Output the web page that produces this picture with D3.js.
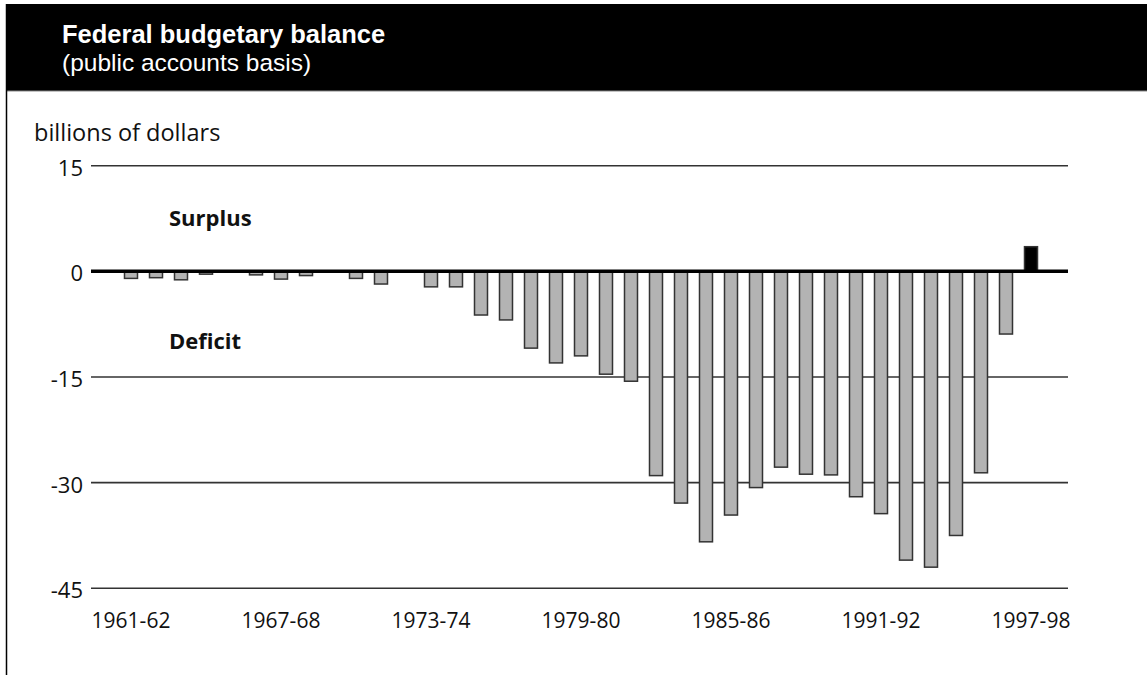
<!DOCTYPE html>
<html>
<head>
<meta charset="utf-8">
<script src="https://cdn.jsdelivr.net/npm/d3@7/dist/d3.min.js"></script>
<style>
  html, body { margin: 0; padding: 0; background: #fff; }
  svg { display: block; font-family: "Open Sans", "Liberation Sans", Arial, sans-serif; }
  .head { font-family: "Liberation Sans", Arial, sans-serif; }
</style>
</head>
<body>
<svg id="chart" width="1147" height="675"></svg>
<script>
const years = ["1961-62","1962-63","1963-64","1964-65","1965-66","1966-67","1967-68","1968-69",
  "1969-70","1970-71","1971-72","1972-73","1973-74","1974-75","1975-76","1976-77","1977-78",
  "1978-79","1979-80","1980-81","1981-82","1982-83","1983-84","1984-85","1985-86","1986-87",
  "1987-88","1988-89","1989-90","1990-91","1991-92","1992-93","1993-94","1994-95","1995-96",
  "1996-97","1997-98"];
const balance = [-1.0,-0.9,-1.2,-0.4,0,-0.5,-1.1,-0.6,
  0,-1.0,-1.8,0,-2.2,-2.2,-6.2,-6.9,-10.9,
  -13.0,-12.0,-14.6,-15.6,-29.0,-32.9,-38.4,-34.6,-30.7,
  -27.8,-28.8,-28.9,-32.0,-34.4,-41.0,-42.0,-37.5,-28.6,
  -8.9,3.5];
const yTicks = [15, 0, -15, -30, -45];
const xTickLabels = ["1961-62","1967-68","1973-74","1979-80","1985-86","1991-92","1997-98"];

const svg = d3.select("#chart");

// Header band
svg.append("rect").attr("x", 6).attr("y", 4).attr("width", 1141).attr("height", 87).attr("fill", "#000");
svg.append("line").attr("x1", 6).attr("x2", 1147).attr("y1", 91).attr("y2", 91)
  .attr("stroke", "#888").attr("stroke-width", 1);
svg.append("line").attr("x1", 6.5).attr("x2", 6.5).attr("y1", 4).attr("y2", 675)
  .attr("stroke", "#000").attr("stroke-width", 1.5);
svg.append("text").attr("class", "head").attr("x", 62).attr("y", 43).attr("fill", "#fff")
  .attr("font-size", 25.5).attr("font-weight", "bold").text("Federal budgetary balance");
svg.append("text").attr("class", "head").attr("x", 62).attr("y", 71).attr("fill", "#fff")
  .attr("font-size", 24.5).text("(public accounts basis)");

// Scales
const x = d3.scaleBand().domain(years).range([118.5, 1043.5]).paddingInner(0.48).paddingOuter(0.24);
const y = d3.scaleLinear().domain([-45, 15]).range([588.3, 165.7]);

const gx0 = 91, gx1 = 1068;

// Gridlines
svg.append("g").selectAll("line").data(yTicks.filter(d => d !== 0)).join("line")
  .attr("x1", gx0).attr("x2", gx1).attr("y1", d => y(d)).attr("y2", d => y(d))
  .attr("stroke", "#333").attr("stroke-width", 1.6);

// Y tick labels
svg.append("g").selectAll("text").data(yTicks).join("text")
  .attr("x", 83).attr("y", d => y(d) + 10).attr("text-anchor", "end")
  .attr("font-size", 22).attr("fill", "#111").text(d => d);

svg.append("text").attr("x", 34).attr("y", 141).attr("font-size", 23.5).attr("fill", "#111")
  .text("billions of dollars");

// Bars
svg.append("g").selectAll("rect").data(years.map((k, i) => ({k, v: balance[i]})).filter(d => d.v !== 0))
  .join("rect")
  .attr("x", d => x(d.k)).attr("width", x.bandwidth())
  .attr("y", d => Math.min(y(0), y(d.v)))
  .attr("height", d => Math.abs(y(d.v) - y(0)))
  .attr("fill", d => d.v > 0 ? "#000" : "#b3b3b3")
  .attr("stroke", "#333").attr("stroke-width", 1.5);

// Zero line
svg.append("line").attr("x1", gx0).attr("x2", gx1).attr("y1", y(0)).attr("y2", y(0))
  .attr("stroke", "#000").attr("stroke-width", 3.5);

// X labels
svg.append("g").selectAll("text").data(xTickLabels).join("text")
  .attr("x", d => x(d) + x.bandwidth() / 2).attr("y", 628).attr("text-anchor", "middle")
  .attr("font-size", 21).attr("fill", "#111").text(d => d);

// Annotations
svg.append("text").attr("x", 169).attr("y", 226).attr("font-size", 22).attr("font-weight", "bold")
  .attr("fill", "#111").text("Surplus");
svg.append("text").attr("x", 169).attr("y", 349).attr("font-size", 22).attr("font-weight", "bold")
  .attr("fill", "#111").text("Deficit");
</script>
</body>
</html>
